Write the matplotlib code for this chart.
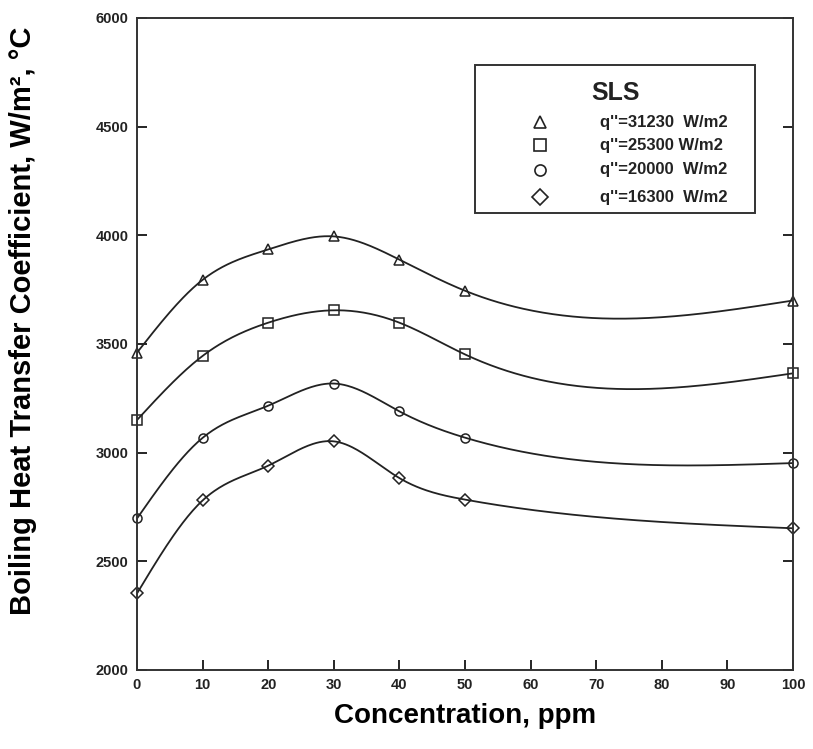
import numpy as np
import matplotlib
matplotlib.use('Agg')
import matplotlib.pyplot as plt
from matplotlib.patches import Rectangle

plt.rcParams['font.family'] = ['Liberation Sans', 'DejaVu Sans']

# datos
concentracion = [0, 10, 20, 30, 40, 50, 100]
h_31230 = [3460, 3795, 3935, 3995, 3888, 3745, 3700]
h_25300 = [3150, 3445, 3598, 3655, 3598, 3452, 3365]
h_20000 = [2697, 3068, 3216, 3318, 3190, 3069, 2952]
h_16300 = [2352, 2780, 2940, 3052, 2883, 2784, 2652]

etiquetas = ["q''=31230  W/m2", "q''=25300 W/m2", "q''=20000  W/m2", "q''=16300  W/m2"]
marcadores = ['^', 's', 'o', 'D']
ticks_y = [2000, 2500, 3000, 3500, 4000, 4500, 5000]
etiquetas_y = ['2000', '2500', '3000', '3500', '4000', '4500', '6000']
ticks_x = [0, 10, 20, 30, 40, 50, 60, 70, 80, 90, 100]


def spline_natural(x, y, n=400):
    # spline cubico natural, solo para suavizar la linea
    x = np.asarray(x, float)
    y = np.asarray(y, float)
    m = len(x)
    h = np.diff(x)
    A = np.zeros((m, m))
    b = np.zeros(m)
    A[0, 0] = 1
    A[-1, -1] = 1
    for i in range(1, m - 1):
        A[i, i - 1] = h[i - 1]
        A[i, i] = 2 * (h[i - 1] + h[i])
        A[i, i + 1] = h[i]
        b[i] = 6 * ((y[i + 1] - y[i]) / h[i] - (y[i] - y[i - 1]) / h[i - 1])
    M = np.linalg.solve(A, b)
    xs = np.linspace(x[0], x[-1], n)
    ys = np.empty_like(xs)
    for k, xv in enumerate(xs):
        i = min(np.searchsorted(x, xv, side='right') - 1, m - 2)
        t1 = x[i + 1] - xv
        t0 = xv - x[i]
        ys[k] = (M[i] * t1 ** 3 + M[i + 1] * t0 ** 3) / (6 * h[i]) \
            + (y[i] / h[i] - M[i] * h[i] / 6) * t1 \
            + (y[i + 1] / h[i] - M[i + 1] * h[i] / 6) * t0
    return xs, ys


fig = plt.figure(figsize=(8.13, 7.49), dpi=100)
ax = fig.add_axes([0.1685, 0.1055, 0.8069, 0.8705])

series = [h_31230, h_25300, h_20000, h_16300]
for valores, mk in zip(series, marcadores):
    xs, ys = spline_natural(concentracion, valores)
    ax.plot(xs, ys, color='#222222', lw=1.3)
    ax.plot(concentracion, valores, linestyle='none', marker=mk, ms=6.5,
            mfc='none', mec='#222222', mew=1.1, clip_on=False)

ax.set_xlim(0, 100)
ax.set_ylim(2000, 5000)
ax.set_xticks(ticks_x)
ax.set_yticks(ticks_y)
ax.set_yticklabels(etiquetas_y)
ax.tick_params(direction='in', length=7, width=1.2, right=True,
               labelsize=10.5, pad=6)
for lbl in ax.get_xticklabels() + ax.get_yticklabels():
    lbl.set_fontweight('bold')
    lbl.set_color('#222222')
for s in ax.spines.values():
    s.set_linewidth(1.4)
    s.set_color('#333333')

ax.set_xlabel('Concentration, ppm', fontsize=20, fontweight='bold', labelpad=8)
ax.set_ylabel('Boiling Heat Transfer Coefficient, W/m², °C', fontsize=21,
              fontweight='bold')
ax.yaxis.set_label_coords(-0.152, 0.535)

# leyenda dibujada a mano, como en la figura original
ax.add_patch(Rectangle((0.515, 0.701), 0.427, 0.227, transform=ax.transAxes,
                       fill=False, ec='#333333', lw=1.4))
ax.text(0.729, 0.885, 'SLS', transform=ax.transAxes, fontsize=18,
        fontweight='bold', ha='center', va='center', color='#222222')
filas_y = [0.840, 0.805, 0.767, 0.725]
for fy, mk, txt in zip(filas_y, marcadores, etiquetas):
    ax.plot([0.614], [fy], transform=ax.transAxes, linestyle='none',
            marker=mk, ms=8, mfc='none', mec='#222222', mew=1.2)
    ax.text(0.706, fy, txt, transform=ax.transAxes, fontsize=12,
            fontweight='bold', ha='left', va='center', color='#222222')

fig.savefig('out.png', dpi=100)
